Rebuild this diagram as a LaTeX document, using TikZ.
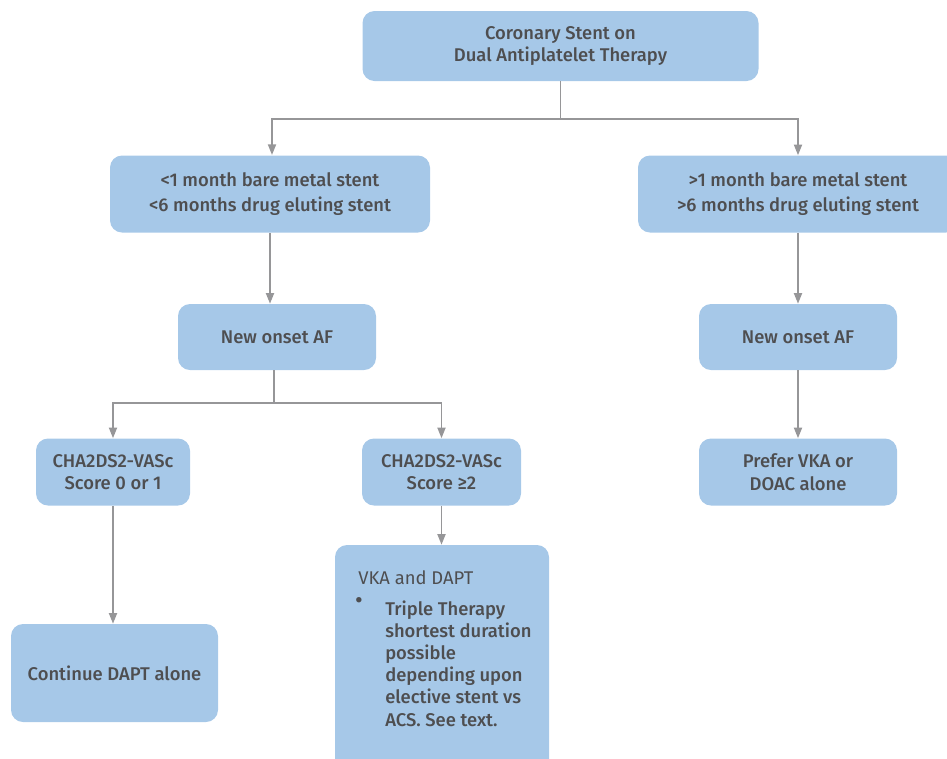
\documentclass[tikz,border=0pt]{standalone}
\usepackage{fontspec}
\setmainfont{Fira Sans Medium}
\newfontfamily\plainfont{Fira Sans}
\usetikzlibrary{arrows.meta}
\definecolor{boxblue}{RGB}{166,200,232}
\definecolor{textgray}{RGB}{78,78,80}
\definecolor{linegray}{RGB}{150,150,152}

\begin{document}
\begin{tikzpicture}[x=0.75pt,y=-0.75pt,
    box/.style={fill=boxblue,rounded corners=9pt,text=textgray,align=center,
        font=\fontsize{13.8}{16.9}\selectfont,inner sep=0pt},
    link/.style={draw=linegray,line width=1.4pt},
    arrow/.style={link,-{Triangle[length=8pt,width=6pt]}}]
    % page frame
    \useasboundingbox (0,0) rectangle (947,758);
    % first level
    \node[box,minimum width=297pt,minimum height=52.5pt] (stent) at (560.5,46)
        {Coronary Stent on\\Dual Antiplatelet Therapy};
    % second level
    \node[box,minimum width=240pt,minimum height=57.75pt] (early) at (270,194)
        {<1 month bare metal stent\\[1.5pt]<6 months drug eluting stent};
    \node[box,minimum width=240pt,minimum height=57.75pt] (late) at (798,194)
        {>1 month bare metal stent\\[1.5pt]>6 months drug eluting stent};
    % new onset AF
    \node[box,minimum width=148.5pt,minimum height=49.5pt] (afleft) at (277,337) {New onset AF};
    \node[box,minimum width=148.5pt,minimum height=49.5pt] (afright) at (798,337) {New onset AF};
    % scores
    \node[box,minimum width=115.5pt,minimum height=50.25pt] (lowscore) at (113,472)
        {CHA2DS2-VASc\\Score 0 or 1};
    \node[box,minimum width=119.25pt,minimum height=50.25pt] (highscore) at (441.5,472)
        {CHA2DS2-VASc\\Score ≥2};
    \node[box,minimum width=148.5pt,minimum height=50.25pt] (prefer) at (798,472)
        {Prefer VKA or\\DOAC alone};
    % outcomes
    \node[box,minimum width=155.25pt,minimum height=73.5pt] (dapt) at (114.5,673)
        {Continue DAPT alone};
    \node[box,minimum width=160.5pt,minimum height=172.5pt] (triple) at (442,660) {};
    \node[text=textgray,anchor=north west,inner sep=0pt,font=\plainfont\fontsize{13.8}{16.9}\selectfont]
        (tripletitle) at (358,570) {VKA and DAPT};
    \node[text=textgray,anchor=north west,inner sep=0pt,font=\fontsize{16}{16.9}\selectfont]
        (bullet) at (355,597) {•};
    \node[text=textgray,anchor=north west,inner sep=0pt,align=left,
        font=\fontsize{13.8}{16.6}\selectfont] (tripletext) at (385,600.5)
        {Triple Therapy\\shortest duration\\possible\\depending upon\\elective stent vs\\ACS. See text.};
    % junctions
    \coordinate (split1) at (560.5,119);
    \coordinate (split2) at (274,403);
    % connectors
    \draw[link] (stent.south) -- (split1);
    \draw[arrow] (split1) -| (272,155);
    \draw[arrow] (split1) -| (late.north);
    \draw[arrow] (early.south) -- (afleft.north -| early.south);
    \draw[arrow] (late.south) -- (afright.north);
    \draw[link] (afleft.south -| split2) -- (split2);
    \draw[arrow] (split2) -| (lowscore.north);
    \draw[arrow] (split2) -| (highscore.north);
    \draw[arrow] (afright.south) -- (prefer.north);
    \draw[arrow] (lowscore.south) -- (lowscore.south |- dapt.north);
    \draw[arrow] (highscore.south) -- (highscore.south |- triple.north);
\end{tikzpicture}
\end{document}
